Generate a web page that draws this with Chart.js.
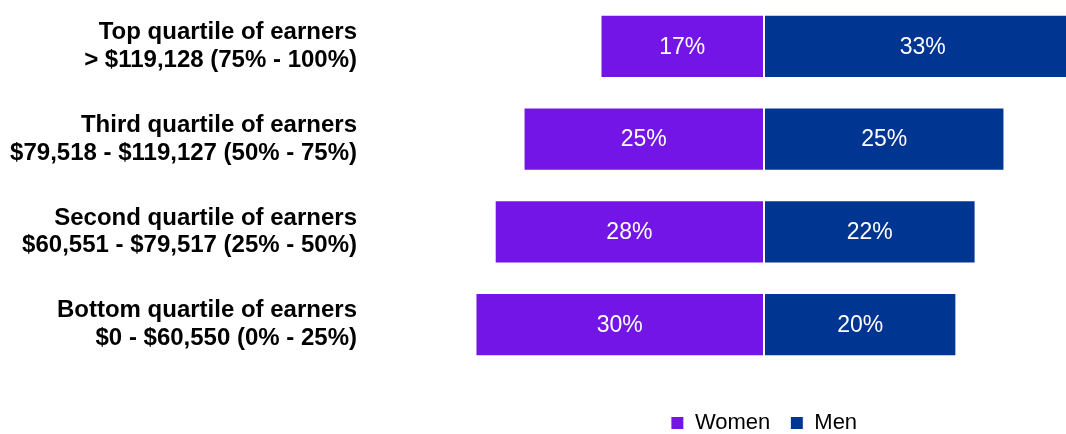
<!DOCTYPE html>
<html>
<head>
<meta charset="utf-8">
<script src="https://cdn.jsdelivr.net/npm/chart.js@4/dist/chart.umd.min.js"></script>
<style>
  html, body { margin: 0; padding: 0; background: #fff; overflow: hidden; }
</style>
</head>
<body>
<canvas id="quartileChart" width="1066" height="434"></canvas>
<script>
// quartile bands, top to bottom
const quartiles = [
  ['Top quartile of earners', '> $119,128 (75% - 100%)'],
  ['Third quartile of earners', '$79,518 - $119,127 (50% - 75%)'],
  ['Second quartile of earners', '$60,551 - $79,517 (25% - 50%)'],
  ['Bottom quartile of earners', '$0 - $60,550 (0% - 25%)']
];
const women = [17, 25, 28, 30];
const men = [33, 25, 22, 20];

const FONT = '"Liberation Sans", Arial, sans-serif';

// white percentage labels in the middle of each bar
const barLabels = {
  id: 'barLabels',
  afterDatasetsDraw(chart) {
    const ctx = chart.ctx;
    ctx.save();
    ctx.fillStyle = '#ffffff';
    ctx.font = '23px ' + FONT;
    ctx.textAlign = 'center';
    ctx.textBaseline = 'middle';
    chart.data.datasets.forEach((ds, i) => {
      chart.getDatasetMeta(i).data.forEach((bar, j) => {
        ctx.fillText(Math.abs(ds.data[j]) + '%', (bar.x + bar.base) / 2, bar.y + 1);
      });
    });
    ctx.restore();
  }
};

new Chart(document.getElementById('quartileChart'), {
  type: 'bar',
  data: {
    labels: quartiles,
    datasets: [
      {
        label: 'Women',
        data: women.map(v => -v),
        backgroundColor: '#7415e8',
        borderColor: '#ffffff',
        borderWidth: 1,
        borderSkipped: false
      },
      {
        label: 'Men',
        data: men,
        backgroundColor: '#003591',
        borderColor: '#ffffff',
        borderWidth: 1,
        borderSkipped: false
      }
    ]
  },
  options: {
    indexAxis: 'y',
    responsive: false,
    animation: false,
    devicePixelRatio: 1,
    categoryPercentage: 0.68,
    barPercentage: 1,
    layout: { padding: { left: 0, right: 0, top: 0, bottom: -10 } },
    scales: {
      x: {
        stacked: true,
        min: -31.4,
        max: 31.4,
        grid: { display: false, drawTicks: false },
        border: { display: false },
        ticks: { display: false },
        afterFit(s) { s.height = 21; s.paddingLeft = 0; s.paddingRight = 0; }
      },
      y: {
        stacked: true,
        grid: { display: false, drawTicks: false },
        border: { display: false },
        ticks: {
          padding: 105,
          color: '#000000',
          font: { family: FONT, size: 24, weight: 'bold', lineHeight: 1.15 }
        },
        afterFit(s) { s.width = 462; s.paddingTop = 0; s.paddingBottom = 0; }
      }
    },
    plugins: {
      tooltip: { enabled: false },
      legend: {
        position: 'bottom',
        fullSize: false,
        labels: {
          boxWidth: 13,
          boxHeight: 13,
          padding: 20,
          color: '#000000',
          font: { family: FONT, size: 22 }
        }
      }
    }
  },
  plugins: [barLabels]
});
</script>
</body>
</html>
